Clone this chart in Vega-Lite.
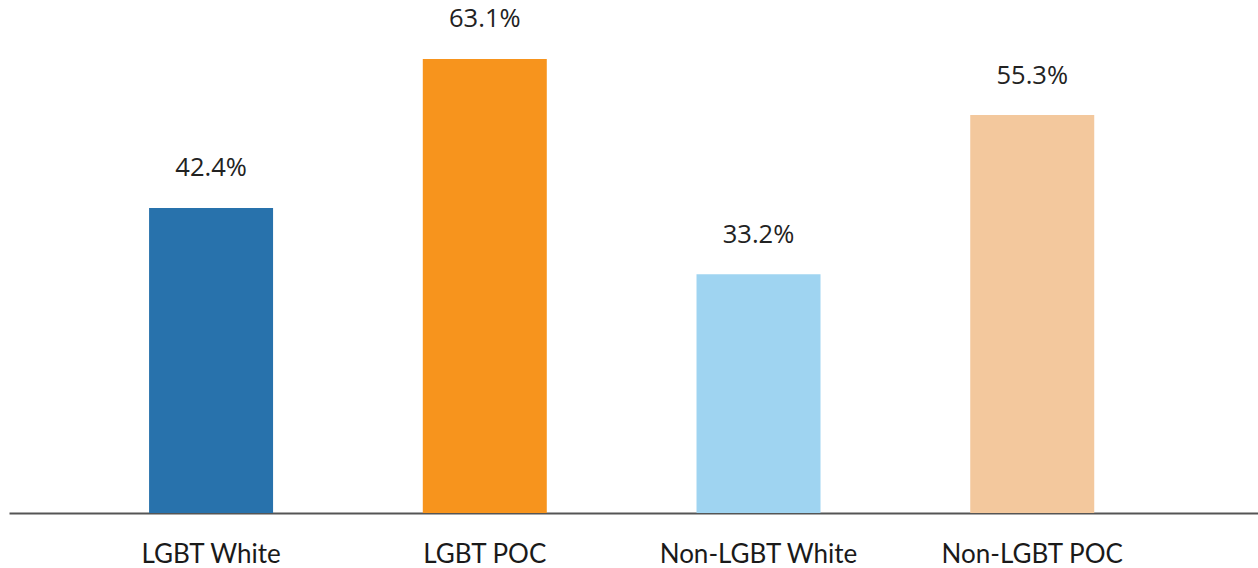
{
  "$schema": "https://vega.github.io/schema/vega-lite/v6.json",
  "width": 1249,
  "height": 513,
  "autosize": {"type": "none"},
  "padding": {"left": 9, "top": 0, "right": 0, "bottom": 55},
  "background": "white",
  "config": {"view": {"stroke": null}},
  "data": {"values": [
    {"group": "LGBT White", "value": 42.4, "label": "42.4%"},
    {"group": "LGBT POC", "value": 63.1, "label": "63.1%"},
    {"group": "Non-LGBT  White", "value": 33.2, "label": "33.2%"},
    {"group": "Non-LGBT POC", "value": 55.3, "label": "55.3%"}
  ]},
  "encoding": {
    "x": {
      "field": "group", "type": "nominal", "sort": null,
      "scale": {"paddingInner": 0.547, "paddingOuter": 0.555, "align": 0.461},
      "axis": {
        "title": null, "labelAngle": 0, "ticks": false,
        "domainColor": "#555555", "domainWidth": 2,
        "labelFont": "Lato", "labelFontSize": 26, "labelColor": "#1a1a1a",
        "labelPadding": 49, "labelBaseline": "alphabetic", "labelLimit": 400
      }
    },
    "y": {
      "field": "value", "type": "quantitative",
      "scale": {"domain": [0, 71.3], "nice": false, "zero": true},
      "axis": null
    }
  },
  "layer": [
    {
      "mark": {"type": "bar"},
      "encoding": {
        "color": {
          "field": "group", "type": "nominal", "legend": null,
          "scale": {
            "domain": ["LGBT White", "LGBT POC", "Non-LGBT  White", "Non-LGBT POC"],
            "range": ["#2872ac", "#f7941d", "#9fd4f1", "#f3c89d"]
          }
        }
      }
    },
    {
      "mark": {"type": "text", "baseline": "middle", "dy": -39.5, "font": "Open Sans", "fontSize": 25.5, "color": "#222222"},
      "encoding": {"text": {"field": "label"}}
    }
  ]
}
